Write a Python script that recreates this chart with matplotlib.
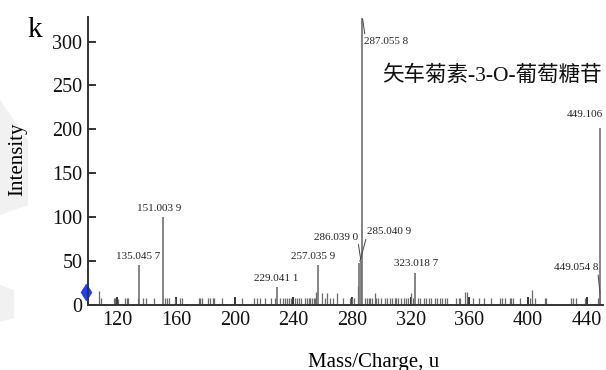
import matplotlib
matplotlib.use("Agg")
import matplotlib.pyplot as plt
from matplotlib.patches import Polygon

plt.rcParams['font.family'] = ['Liberation Serif', 'Noto Sans CJK SC']

# labelled peaks: m/z, intensity, label text
peak_mz = [135.0457, 151.0039, 229.0411, 257.0359, 285.0409, 286.0390,
           287.0558, 323.0187, 449.0548, 449.106]
peak_int = [45, 100, 20, 45, 48, 50, 327, 37, 12, 202]
peak_lbl = ['135.045 7', '151.003 9', '229.041 1', '257.035 9', '285.040 9',
            '286.039 0', '287.055 8', '323.018 7', '449.054 8', '449.106']

# minor fragment ions
noise_mz = [107.3, 108.9, 117.5, 118.6, 120.7, 125.4, 126.3, 127.5, 134.3, 137.2,
            139.5, 145.2, 152.5, 153.8, 155.4, 159.6, 162.9, 163.8, 175.4, 176.5,
            177.7, 181.5, 183.1, 184.9, 185.6, 191.3, 204.9, 212.9, 215.1, 217.4,
            220.8, 224.9, 227.6, 231.0, 232.6, 234.4, 235.6, 237.1, 238.5, 241.2,
            242.4, 244.0, 245.3, 247.6, 249.2, 250.3, 251.5, 252.6, 253.7, 254.8,
            255.5, 259.4, 261.2, 262.8, 265.1, 266.7, 269.6, 273.7, 278.9, 279.8,
            281.6, 284.0, 288.5, 290.3, 291.2, 292.3, 293.7, 295.3, 296.4, 297.5,
            299.4, 302.1, 303.7, 305.5, 307.4, 308.9, 310.0, 311.2, 313.4, 315.3,
            316.8, 318.0, 320.3, 321.4, 324.8, 326.6, 328.9, 330.5, 332.1, 333.9,
            336.2, 337.7, 339.6, 341.1, 343.0, 344.8, 351.0, 352.8, 353.6, 356.8,
            358.4, 362.5, 366.6, 369.8, 375.0, 380.7, 382.5, 384.1, 387.5, 388.6,
            389.7, 394.3, 401.1, 402.9, 404.5, 411.3, 412.4, 429.5, 430.6, 432.9,
            438.6, 447.6]
noise_int = [16, 8, 8, 8, 7, 8, 8, 8, 8, 8,
             8, 8, 8, 8, 8, 8, 8, 8, 8, 8,
             8, 8, 8, 8, 8, 8, 8, 8, 8, 8,
             8, 8, 8, 8, 8, 8, 8, 8, 8, 8,
             8, 8, 8, 8, 8, 8, 8, 8, 8, 8,
             15, 14, 8, 14, 8, 8, 14, 8, 8, 8,
             8, 22, 8, 8, 8, 8, 8, 14, 8, 8,
             8, 8, 8, 8, 8, 8, 8, 8, 8, 8,
             8, 8, 14, 8, 8, 8, 8, 8, 8, 8,
             8, 8, 8, 8, 8, 8, 8, 8, 8, 15,
             15, 8, 8, 8, 8, 8, 8, 8, 8, 8,
             8, 8, 8, 17, 8, 8, 8, 8, 8, 8,
             8, 8]

x_ticks = [120, 160, 200, 240, 280, 320, 360, 400, 440]
y_ticks = [0, 50, 100, 150, 200, 250, 300]

# label offsets (points) and leader-line anchor on the text box
label_pos = {
    '135.045 7': ((-1, 3), None, 'center'),
    '151.003 9': ((-3, 3), None, 'center'),
    '229.041 1': ((-1, 3), None, 'center'),
    '257.035 9': ((-4, 3), None, 'center'),
    '323.018 7': ((1, 3), None, 'center'),
    '449.106': ((2, 6), None, 'right'),
    '287.055 8': ((1, -20), (0.03, 1), 'left'),
    '286.039 0': ((-18, 14), (1, 0), 'center'),
    '285.040 9': ((21, 19), (0, 0), 'center'),
    '449.054 8': ((-1, 16), (0.98, 0), 'right'),
}

fig = plt.figure(figsize=(6.06, 3.70), dpi=100)
ax = fig.add_axes([88 / 606, 65 / 370, 515 / 606, 288 / 370])

# faint background watermark
for pts in ([(0, 100), (28, 140), (28, 205), (0, 215)],
            [(0, 285), (14, 290), (14, 318), (0, 322)]):
    fig.patches.append(Polygon([(x / 606, 1 - y / 370) for x, y in pts],
                               closed=True, transform=fig.transFigure,
                               facecolor='#f1f1f1', edgecolor='none', zorder=-5))

ax.vlines(noise_mz, 0, noise_int, color='#6a6a6a', lw=0.9)
ax.vlines(peak_mz, 0, peak_int, color='#707070', lw=1.2)

for mz, h, lbl in zip(peak_mz, peak_int, peak_lbl):
    off, rel, ha = label_pos[lbl]
    kw = {}
    if rel is not None:
        kw['arrowprops'] = dict(arrowstyle='-', color='#444444', lw=0.7,
                                relpos=rel, shrinkA=0, shrinkB=1)
    ax.annotate(lbl, xy=(mz, h), xytext=off, textcoords='offset points',
                ha=ha, va='bottom', fontsize=8, color='#222222', **kw)

ax.set_xlim(100, 451)
ax.set_ylim(0, 328)
ax.set_xticks(x_ticks)
ax.set_yticks(y_ticks)
ax.tick_params(direction='in', length=6, width=1.2, labelsize=14.5,
               colors='#111111', pad=4)
for side in ('top', 'right'):
    ax.spines[side].set_visible(False)
for side in ('left', 'bottom'):
    ax.spines[side].set_linewidth(1.4)
    ax.spines[side].set_color('#333333')

ax.set_xlabel('Mass/Charge, u', fontsize=15, va='center')
ax.xaxis.set_label_coords(0.555, -0.198)
ax.set_ylabel('Intensity', fontsize=15, va='center')
ax.yaxis.set_label_coords(-0.136, 0.507)

# blue cursor marker next to the intensity axis
ax.plot([98.6], [15], marker='d', ms=8, color='#1f3fff', clip_on=False)

ax.text(0.997, 0.795, '矢车菊素-3-O-葡萄糖苷', transform=ax.transAxes,
        ha='right', va='center', fontsize=15.5, color='#111111')
fig.text(35 / 606, 1 - 30 / 370, 'k', fontsize=21, ha='center', va='center')

fig.savefig('out.png', dpi=100)
